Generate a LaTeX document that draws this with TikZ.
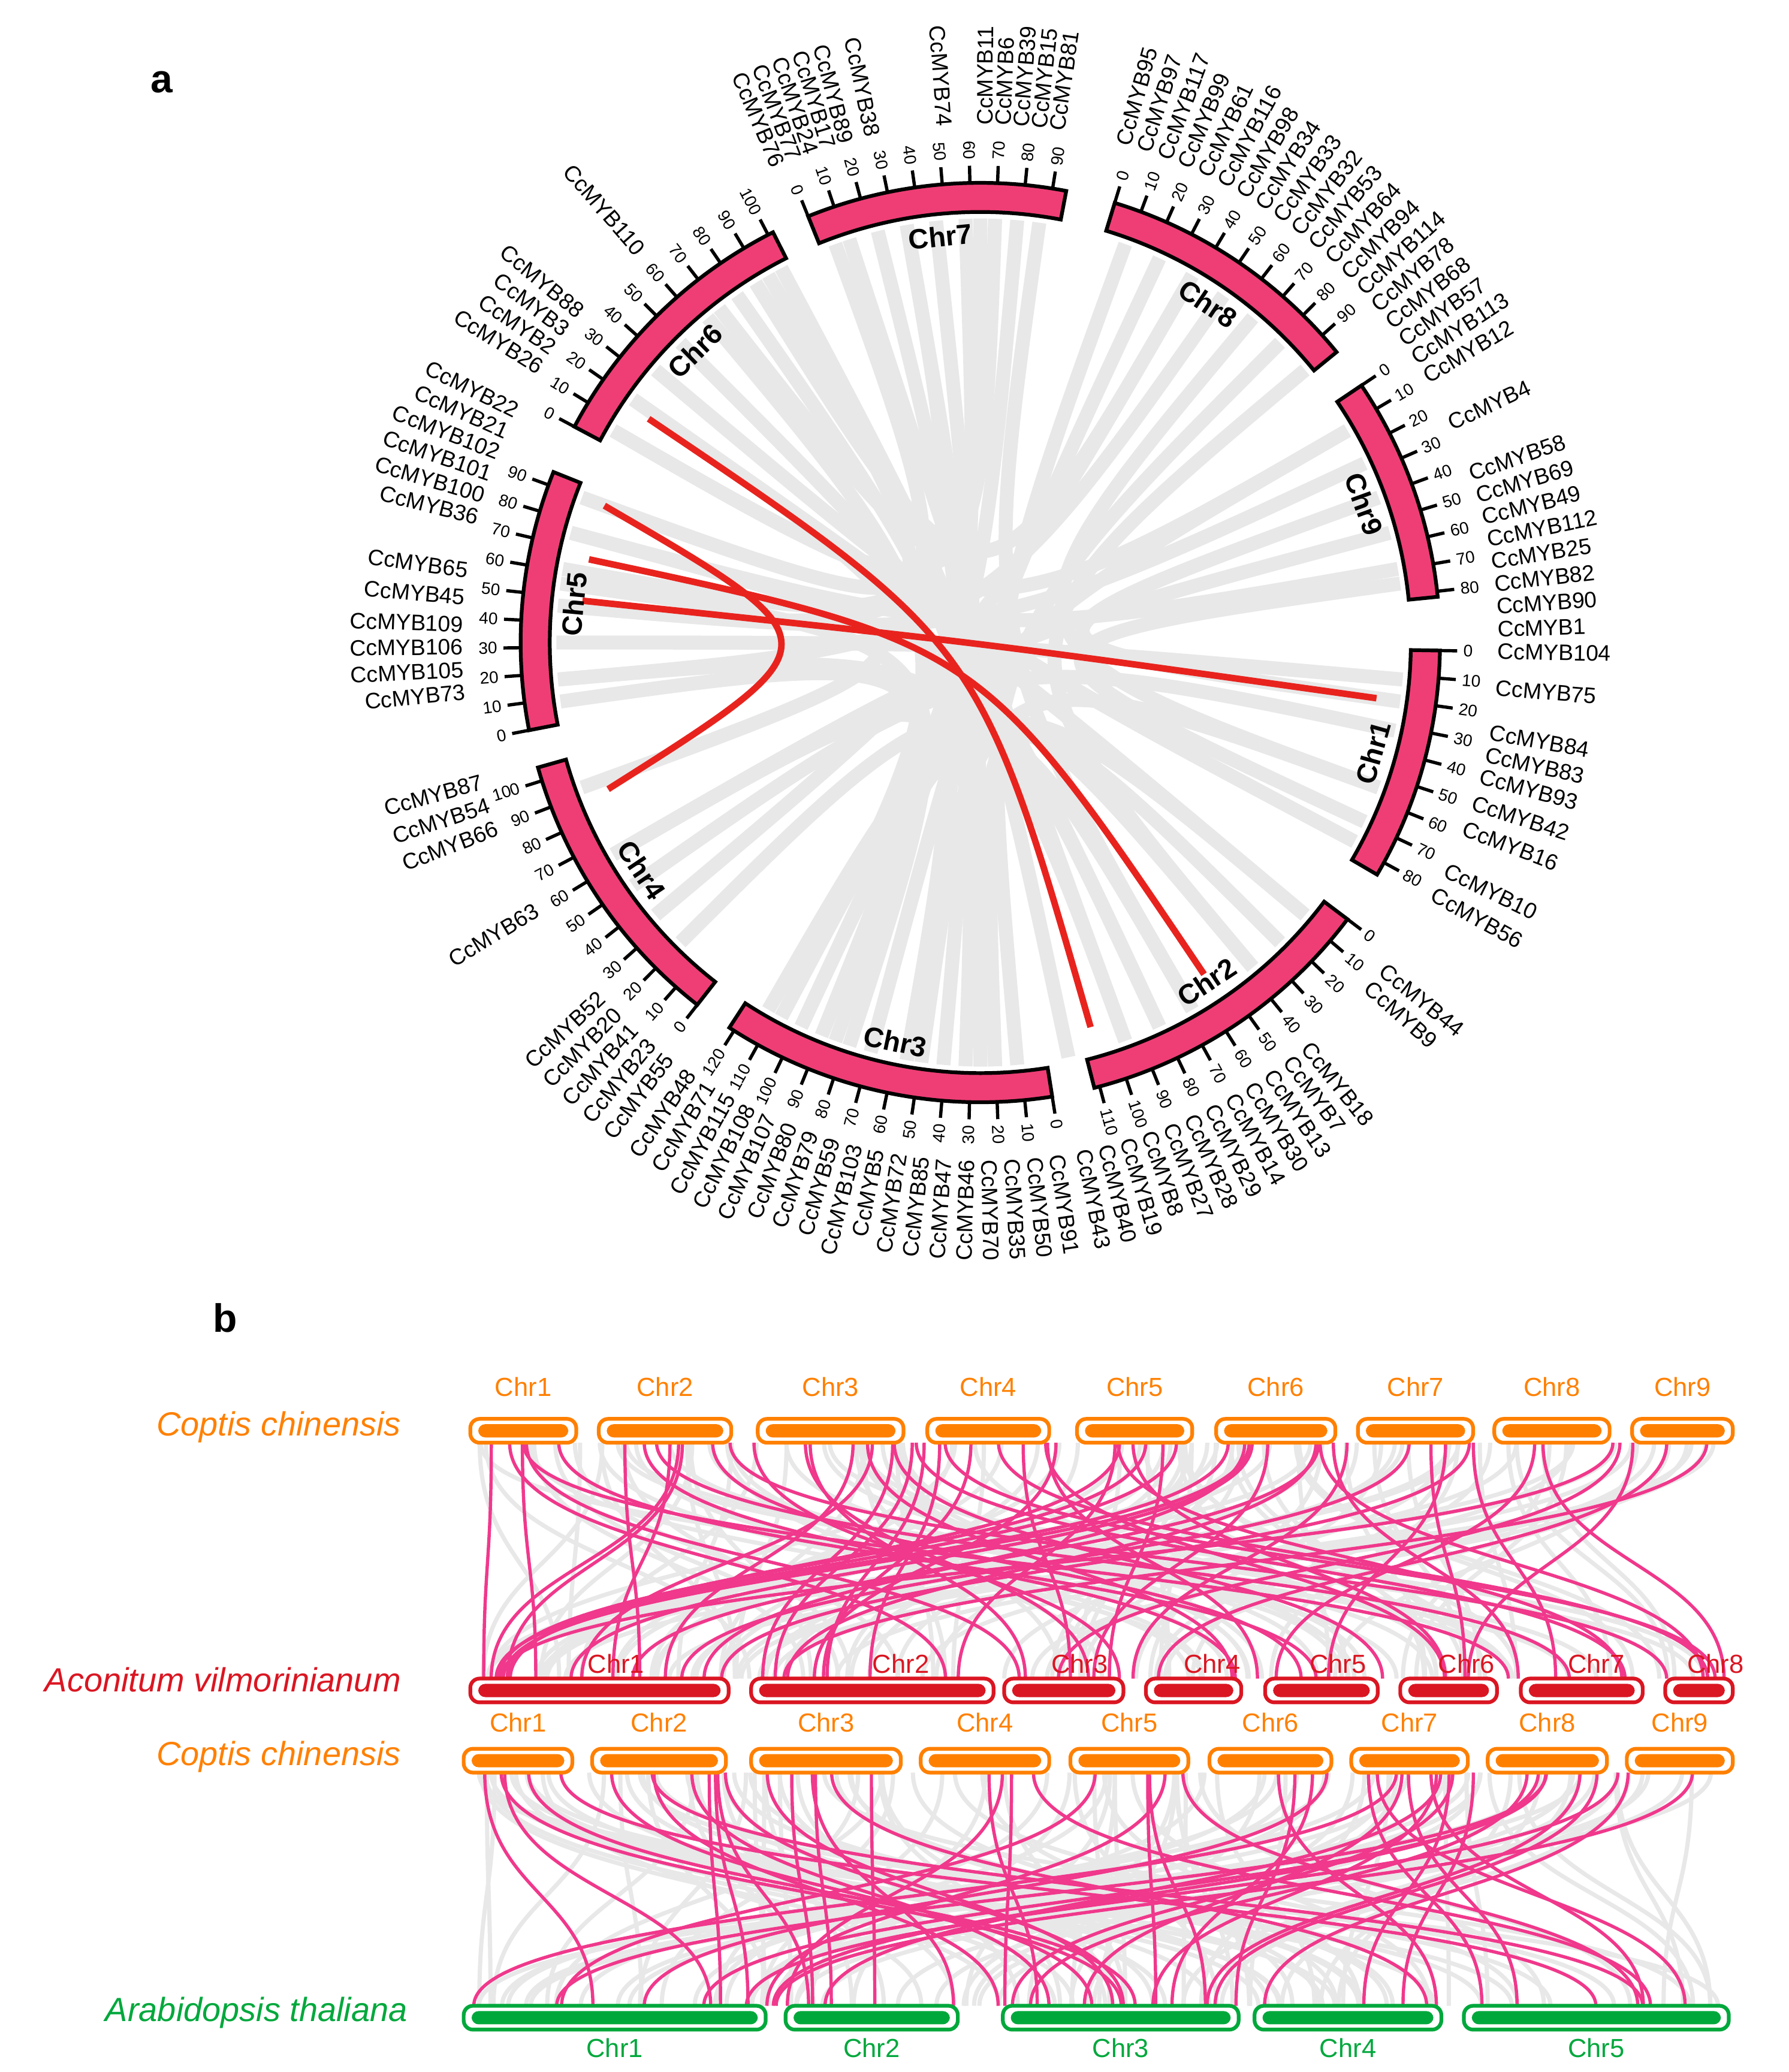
\documentclass[tikz,border=0pt]{standalone}
\usepackage{fontspec}
\setmainfont{Liberation Sans}
\usetikzlibrary{calc}
\definecolor{chrpink}{RGB}{238,62,117}
\definecolor{linkred}{RGB}{232,35,30}
\definecolor{linkpink}{RGB}{240,56,140}
\definecolor{ccorange}{RGB}{255,128,0}
\definecolor{avred}{RGB}{218,22,34}
\definecolor{atgreen}{RGB}{0,168,60}

\begin{document}
\begin{tikzpicture}[x=0.01cm,y=-0.01cm]
    \tikzstyle{band} = [draw=black, line width=0.8pt, fill=chrpink]
    \tikzstyle{glink} = [draw=gray!18, line width=3pt]
    \tikzstyle{rlink} = [draw=linkred, line width=1.4pt]
    \tikzstyle{gene} = [inner sep=0pt, font=\fontsize{4.8}{5}\selectfont]
    \tikzstyle{tick} = [inner sep=0pt, font=\fontsize{3.6}{4}\selectfont]
    \tikzstyle{chrname} = [font=\fontsize{6}{7}\selectfont\bfseries]
    \tikzstyle{bgline} = [draw=gray!18, line width=0.9pt]
    \tikzstyle{pkline} = [draw=linkpink, line width=0.7pt]
    \tikzstyle{chrlab} = [font=\fontsize{5.6}{6}\selectfont]
    \tikzstyle{species} = [anchor=east, font=\fontsize{7.2}{8}\selectfont\itshape]

    \useasboundingbox (0,0) rectangle (1350,1564);
    \fill[white] (0,0) rectangle (1350,1564);

    % panel a: circos plot
    \node[font=\fontsize{8.5}{9}\selectfont\bfseries] (pa) at (122,62) {a};
    \begin{scope}[shift={(740,485)}, y=0.01cm]
        % grey collinear blocks
        \foreach \p/\q in {100/-95, 104/-100, 96/-90, 92/-110, 108/-70, 85/-115, 82/-60, 110/170,
            88/150, 70/-85, 65/-105, 60/-140, 55/185, 45/-88, 50/-20, 40/-50, 30/-118, 25/175,
            20/-8, 15/-150, 10/165, 8/-25, -5/180, -12/-145, -20/-100, -28/140, -40/-115,
            -45/-135, -50/-90, -60/-120, -65/-98, -70/185, -100/-150, -108/172, -118/130,
            -88/125, -92/145, 160/120, 165/-160, 175/100, 188/-112, 145/-40, 135/-65,
            128/90, 122/60, 150/30, 118/-78}
            \draw[glink] (\p:320) .. controls (0,0) .. (\q:320);

        % segmental duplications
        \draw[rlink] (146:302) .. controls (0,0) .. (-74:302);
        \draw[rlink] (160:302) .. controls (-106,0) .. (-158.5:302);
        \draw[rlink] (168:302) .. controls (0,0) .. (-56:302);
        \draw[rlink] (174:302) .. controls (0,0) .. (-8:302);

        % chromosomes with ticks
        \foreach \nm/\st/\len/\mx in {1/-1/85/80, 2/-37/112/110, 3/-81/122/120, 4/-128/105/100,
            5/191/95/90, 6/152/102/100, 7/112/95/90, 8/73/98/90, 9/34/82/80} {
            \pgfmathsetmacro\en{\st-\len*0.345}
            \draw[band] (\st:325) arc[start angle=\st, end angle=\en, radius=325]
                -- (\en:347) arc[start angle=\en, end angle=\st, radius=347] -- cycle;
            \foreach \t in {0,10,...,\mx} {
                \pgfmathsetmacro\a{\st-\t*0.345}
                \pgfmathsetmacro\c{cos(\a)}
                \ifdim\c pt<0pt \def\an{east}\def\rr{180}\else\def\an{west}\def\rr{0}\fi
                \draw[line width=0.7pt] (\a:347) -- (\a:360);
                \node[tick, rotate=\a+\rr, anchor=\an] at (\a:364) {\t};
            }
            \pgfmathsetmacro\md{\st-\len*0.1725}
            \pgfmathsetmacro\s{sin(\md)}
            \ifdim\s pt<0pt \def\ro{90}\else\def\ro{-90}\fi
            \node[chrname, rotate=\md+\ro] (chr\nm) at (\md:308) {Chr\nm};
        }

        % gene labels
        \foreach \g/\a in {76/113, 77/111, 24/109, 17/107, 89/105, 38/102, 74/94, 11/89.5,
            6/87.5, 39/85.5, 15/83.5, 81/81.5,
            95/74, 97/71.6, 117/69.2, 99/66.8, 61/64.4, 116/62, 98/59.6, 34/57.2, 33/54.8,
            32/52.4, 53/50, 64/47.6, 94/45.2, 114/42.8, 78/40.4, 68/38, 57/35.6, 113/33.2, 12/30.8,
            4/25, 58/19, 69/16.5, 49/14, 112/11.5, 25/9, 82/6.5, 90/4, 1/1.5,
            104/-1, 75/-5, 84/-10, 83/-12.5, 93/-15, 42/-18, 16/-21, 10/-26, 56/-29,
            44/-39, 9/-41.5, 18/-51, 7/-53.5, 13/-56, 30/-58.5, 14/-61, 29/-63.5, 28/-66,
            27/-68.5, 8/-71, 19/-73.5, 40/-76, 43/-78.5,
            91/-81.5, 50/-84, 35/-86.5, 70/-89, 46/-91.5, 47/-94, 85/-96.5, 72/-99, 5/-101.5,
            103/-104, 59/-106.5, 79/-109, 80/-111.5, 107/-114, 108/-116.5, 115/-119, 71/-121.5,
            48/-124, 55/-127, 23/-129.5, 41/-132, 20/-134.5, 52/-137, 63/-149, 66/-159,
            54/-161.7, 87/-164.4,
            73/185.5, 105/183, 106/180.5, 109/178, 45/175, 65/172, 36/166, 100/163.5,
            101/161, 102/158.5, 21/156, 22/153.5, 26/148, 2/145.5, 3/143, 88/140.5, 110/131} {
            \pgfmathsetmacro\c{cos(\a)}
            \ifdim\c pt<0pt \def\an{east}\def\rr{180}\else\def\an{west}\def\rr{0}\fi
            \node[gene, rotate=\a+\rr, anchor=\an] (g\g) at (\a:390) {CcMYB\g};
        }
    \end{scope}

    % panel b: synteny
    \node[font=\fontsize{8.5}{9}\selectfont\bfseries] (pb) at (170,995) {b};
    \pgfmathsetseed{11}
    \foreach \i in {1,...,110} {
        \pgfmathsetmacro\xa{362+rnd*940}
        \pgfmathsetmacro\xb{362+rnd*940}
        \draw[bgline] (\xa,1089) .. controls (\xa,1180) and (\xb,1180) .. (\xb,1267);
        \pgfmathsetmacro\xc{356+rnd*945}
        \pgfmathsetmacro\xd{356+rnd*945}
        \draw[bgline] (\xc,1338) .. controls (\xc,1430) and (\xd,1430) .. (\xd,1514);
    }
    \foreach \i in {1,...,62} {
        \pgfmathsetmacro\xa{362+rnd*940}
        \pgfmathsetmacro\xb{362+rnd*940}
        \draw[pkline] (\xa,1089) .. controls (\xa,1180) and (\xb,1180) .. (\xb,1267);
    }
    \foreach \i in {1,...,52} {
        \pgfmathsetmacro\xc{356+rnd*945}
        \pgfmathsetmacro\xd{356+rnd*945}
        \draw[pkline] (\xc,1338) .. controls (\xc,1430) and (\xd,1430) .. (\xd,1514);
    }

    % chromosome bars
    \foreach \a/\b/\n in {355/435/1, 452/552/2, 572/682/3, 700/792/4, 813/900/5, 918/1008/6,
        1025/1112/7, 1128/1215/8, 1232/1308/9} {
        \draw[ccorange, fill=white, line width=0.8pt, rounded corners=2pt] (\a,1071) rectangle (\b,1089);
        \fill[ccorange, rounded corners=1.5pt] (\a+6,1075) rectangle (\b-6,1085);
        \node[chrlab, text=ccorange] (ca\n) at ({(\a+\b)/2},1047) {Chr\n};
    }
    \foreach \a/\b/\m/\n in {355/550/465/1, 567/750/680/2, 758/848/815/3, 865/937/915/4,
        955/1040/1010/5, 1057/1130/1107/6, 1148/1240/1205/7, 1257/1308/1295/8} {
        \draw[avred, fill=white, line width=0.8pt, rounded corners=2pt] (\a,1267) rectangle (\b,1285);
        \fill[avred, rounded corners=1.5pt] (\a+6,1271) rectangle (\b-6,1281);
        \node[chrlab, text=avred] (av\n) at (\m,1256) {Chr\n};
    }
    \foreach \a/\b/\n in {350/432/1, 447/548/2, 567/680/3, 695/792/4, 808/897/5, 913/1005/6,
        1020/1108/7, 1123/1213/8, 1228/1308/9} {
        \draw[ccorange, fill=white, line width=0.8pt, rounded corners=2pt] (\a,1320) rectangle (\b,1338);
        \fill[ccorange, rounded corners=1.5pt] (\a+6,1324) rectangle (\b-6,1334);
        \node[chrlab, text=ccorange] (cb\n) at ({(\a+\b)/2},1300) {Chr\n};
    }
    \foreach \a/\b/\n in {350/578/1, 593/723/2, 757/935/3, 947/1088/4, 1105/1305/5} {
        \draw[atgreen, fill=white, line width=0.8pt, rounded corners=2pt] (\a,1514) rectangle (\b,1532);
        \fill[atgreen, rounded corners=1.5pt] (\a+6,1518) rectangle (\b-6,1528);
        \node[chrlab, text=atgreen] (at\n) at ({(\a+\b)/2},1546) {Chr\n};
    }

    \node[species, text=ccorange] (sp1) at (315,1077) {Coptis chinensis};
    \node[species, text=avred] (sp2) at (315,1268) {Aconitum vilmorinianum};
    \node[species, text=ccorange] (sp3) at (315,1326) {Coptis chinensis};
    \node[species, text=atgreen] (sp4) at (320,1519) {Arabidopsis thaliana};
\end{tikzpicture}
\end{document}
